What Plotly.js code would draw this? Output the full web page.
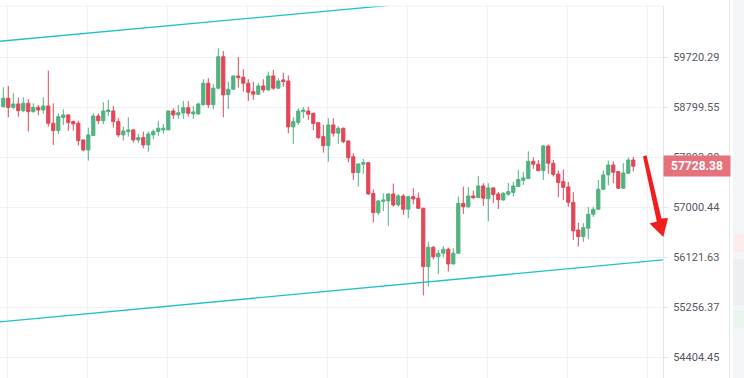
<!DOCTYPE html>
<html><head><meta charset="utf-8">
<script src="https://cdn.plot.ly/plotly-3.0.1.min.js"></script>
<style>html,body{margin:0;padding:0;background:#fff;overflow:hidden}#chart{width:744px;height:378px}</style>
</head><body><div id="chart"></div>
<script>
const openP = [58805,58960,58794,58855,58732,58868,58714,58794,58745,58818,
58504,58370,58606,58655,58533,58504,58201,58020,58279,58636,
58551,58714,58727,58533,58292,58352,58383,58201,58243,58111,
58292,58352,58383,58383,58727,58655,58691,58787,58673,58673,
58842,59236,58842,59144,59726,59026,59125,59370,59346,59236,
59081,59033,59186,59113,59370,59144,59297,59278,58437,58519,
58714,58727,58685,58515,58261,58098,58473,58323,58413,58183,
57898,57613,57763,57791,57241,56900,57102,57108,57232,57036,
57197,56960,57184,57156,56978,55954,56292,56127,56187,56257,
56000,56187,57066,57006,57197,57166,57375,57149,57340,57232,
57125,57227,57259,57363,57474,57506,57816,57763,57647,58092,
57781,57586,57452,57357,57084,56596,56478,56626,56872,56960,
57316,57572,57750,57631,57334,57602,57839];
const highP = [59162,59186,59052,58971,58978,58947,58868,58836,58978,59468,
58868,58685,58758,58660,58551,58551,58205,58424,58685,58685,
58886,58928,58818,58595,58442,58613,58395,58310,58352,58352,
58395,58546,58491,58732,58776,58836,58910,58910,58818,58879,
59310,59328,59223,59883,59832,59265,59375,59720,59494,59310,
59265,59236,59310,59450,59481,59328,59431,59380,58613,58776,
58800,58805,58690,58520,58473,58595,58595,58450,58424,58188,
57960,57781,57857,57798,57316,57125,57245,57245,57416,57232,
57232,57197,57334,57256,56988,56391,56315,56245,56315,56285,
56275,57188,57363,57357,57291,57554,57424,57424,57357,57268,
57263,57429,57447,57661,57625,57996,57888,57839,58111,58116,
57839,57652,57670,57447,57263,56725,56714,57000,57006,57482,
57656,57831,57816,57636,57781,57884,57898];
const lowP = [58794,58613,58758,58624,58703,58352,58696,58649,58673,58442,
58111,58310,58473,58364,58370,58098,57996,57827,58274,58491,
58486,58636,58424,58250,58188,58261,58152,58141,58051,57989,
58214,58274,58310,58378,58582,58582,58582,58624,58582,58655,
58823,58781,58758,59125,58613,58763,59120,59155,59081,58910,
58928,59021,59063,59094,59113,59125,59168,58323,58129,58473,
58595,58564,58377,58219,57971,57809,58261,58129,58141,57798,
57482,57363,57595,57215,56725,56860,56930,56667,57006,57006,
56860,56802,57049,56965,55455,55608,56082,55822,56116,55867,
55995,56182,56877,56978,57138,57160,57018,56749,57072,56965,
57113,57197,57184,57352,57393,57500,57679,57640,57482,57590,
57541,57174,57125,57006,56420,56303,56385,56435,56825,56948,
57304,57384,57424,57322,57322,57590,57634];
const closeP = [58960,58790,58855,58732,58868,58714,58794,58745,58818,58504,
58370,58624,58655,58515,58491,58188,58020,58292,58636,58551,
58727,58745,58533,58292,58364,58383,58201,58243,58111,58310,
58352,58413,58413,58727,58655,58696,58787,58685,58709,58855,
59236,58842,59144,59726,59021,59125,59370,59339,59236,59070,
59033,59186,59113,59370,59144,59278,59265,58437,58533,58727,
58745,58667,58500,58243,58098,58473,58323,58413,58170,57881,
57613,57768,57791,57233,56900,57108,57125,57232,57036,57197,
56960,57184,57143,56978,55954,56292,56127,56187,56257,56000,
56187,57066,57006,57197,57166,57375,57156,57340,57220,57131,
57245,57274,57375,57488,57518,57816,57763,57647,58092,57781,
57581,57434,57349,57084,56579,56478,56637,56872,56960,57316,
57572,57750,57620,57334,57607,57839,57728.38];

const priceTicks = [59720.29, 58799.55, 57893.00, 57000.44, 56121.63, 55256.37, 54404.45];
const priceTickText = ["59720.29","58799.55","57893.00","57000.44","56121.63","55256.37","54404.45"];
const timeGrid = [0.8, 16.8, 32.8, 48.8, 64.8, 80.8, 96.8, 112.8, 128.8];
const upperLineX = [-0.66, 131.94], upperLineY = [60013, 61164];
const lowerLineX = [-0.66, 131.94], lowerLineY = [55001, 56070];
const lastPrice = 57728.38;

const idx = openP.map((_, i) => i);
const UP = '#50b280', DOWN = '#e04858', TREND = '#22c2c2';

const traces = [
  {type:'scatter', mode:'lines', x:upperLineX, y:upperLineY, line:{color:TREND, width:1.3}, hoverinfo:'skip'},
  {type:'scatter', mode:'lines', x:lowerLineX, y:lowerLineY, line:{color:TREND, width:1.3}, hoverinfo:'skip'},
  {type:'candlestick', x:idx, open:openP, high:highP, low:lowP, close:closeP, whiskerwidth:0,
   increasing:{line:{color:UP, width:1}, fillcolor:UP},
   decreasing:{line:{color:DOWN, width:1}, fillcolor:DOWN}}
];

const W = 663, H = 372, T = 6;
function P(x, y){ return [x / W, (378 - y) / H]; }
function path(pts){ return pts.map((p,i)=>{const q=P(p[0],p[1]);return (i?'L':'M')+q[0].toFixed(5)+','+q[1].toFixed(5);}).join(' ')+' Z'; }

const arrowPts = [[643.0,156.5],[646.5,155.3],[661.5,218.5],[668,218],[663.3,237],[649.5,223.5],[656.8,221.5]];

const shapes = [
  {type:'line', xref:'paper', yref:'paper', x0:0, x1:1, y0:1, y1:1, line:{color:'#eeeff3', width:1}},
  {type:'rect', xref:'paper', yref:'paper', x0:733/W, x1:745/W, y0:-0.02, y1:1.03, fillcolor:'#f4f5f8', line:{width:0}},
  {type:'line', xref:'paper', yref:'paper', x0:729.5/W, x1:729.5/W, y0:-0.02, y1:1.03, line:{color:'#e6e8ec', width:1}},
  {type:'rect', xref:'paper', yref:'paper', x0:733/W, x1:745/W, y0:P(0,252)[1], y1:P(0,234)[1], fillcolor:'#fcecee', line:{width:0}},
  {type:'rect', xref:'paper', yref:'paper', x0:733/W, x1:745/W, y0:P(0,305)[1], y1:P(0,259)[1], fillcolor:'#eeeff2', line:{width:0}},
  {type:'rect', xref:'paper', yref:'paper', x0:733/W, x1:745/W, y0:P(0,328)[1], y1:P(0,310)[1], fillcolor:'#eaf5ef', line:{width:0}},
  {type:'path', xref:'paper', yref:'paper', path:path(arrowPts), fillcolor:'#f21d1d', line:{width:0}, layer:'above'}
];

const layout = {
  width:744, height:378,
  margin:{l:0, r:81, t:T, b:0, pad:0},
  paper_bgcolor:'#ffffff', plot_bgcolor:'#ffffff',
  showlegend:false, hovermode:false,
  boxgap:0.2, boxgroupgap:0.2,
  xaxis:{range:[-0.66, 131.94], rangeslider:{visible:false}, tickvals:timeGrid, showticklabels:false, ticks:'',
         showgrid:true, gridcolor:'#f0f1f4', gridwidth:1, zeroline:false, showline:false, fixedrange:true},
  yaxis:{type:'log', range:[4.7328, 4.783005], side:'right', tickvals:priceTicks, ticktext:priceTickText,
         showgrid:true, gridcolor:'#f0f1f4', gridwidth:1, zeroline:false,
         showline:true, linecolor:'#e3e5ea', linewidth:1, ticks:'outside', ticklen:4, tickcolor:'#e3e5ea',
         ticklabelstandoff:3,
         tickfont:{family:'Roboto, Arial, sans-serif', size:11, color:'#555864'}, fixedrange:true},
  shapes:shapes,
  annotations:[
    {xref:'paper', yref:'y', x:1, xanchor:'left', y:Math.log10(lastPrice), yanchor:'middle',
     text:lastPrice.toFixed(2), showarrow:false, bgcolor:'#e5717c', borderpad:0, width:66, height:20,
     align:'center', font:{family:'Roboto, Arial, sans-serif', size:12, color:'#ffffff', weight:'bold'}}
  ]
};

Plotly.newPlot('chart', traces, layout, {staticPlot:true, displayModeBar:false});
</script></body></html>
